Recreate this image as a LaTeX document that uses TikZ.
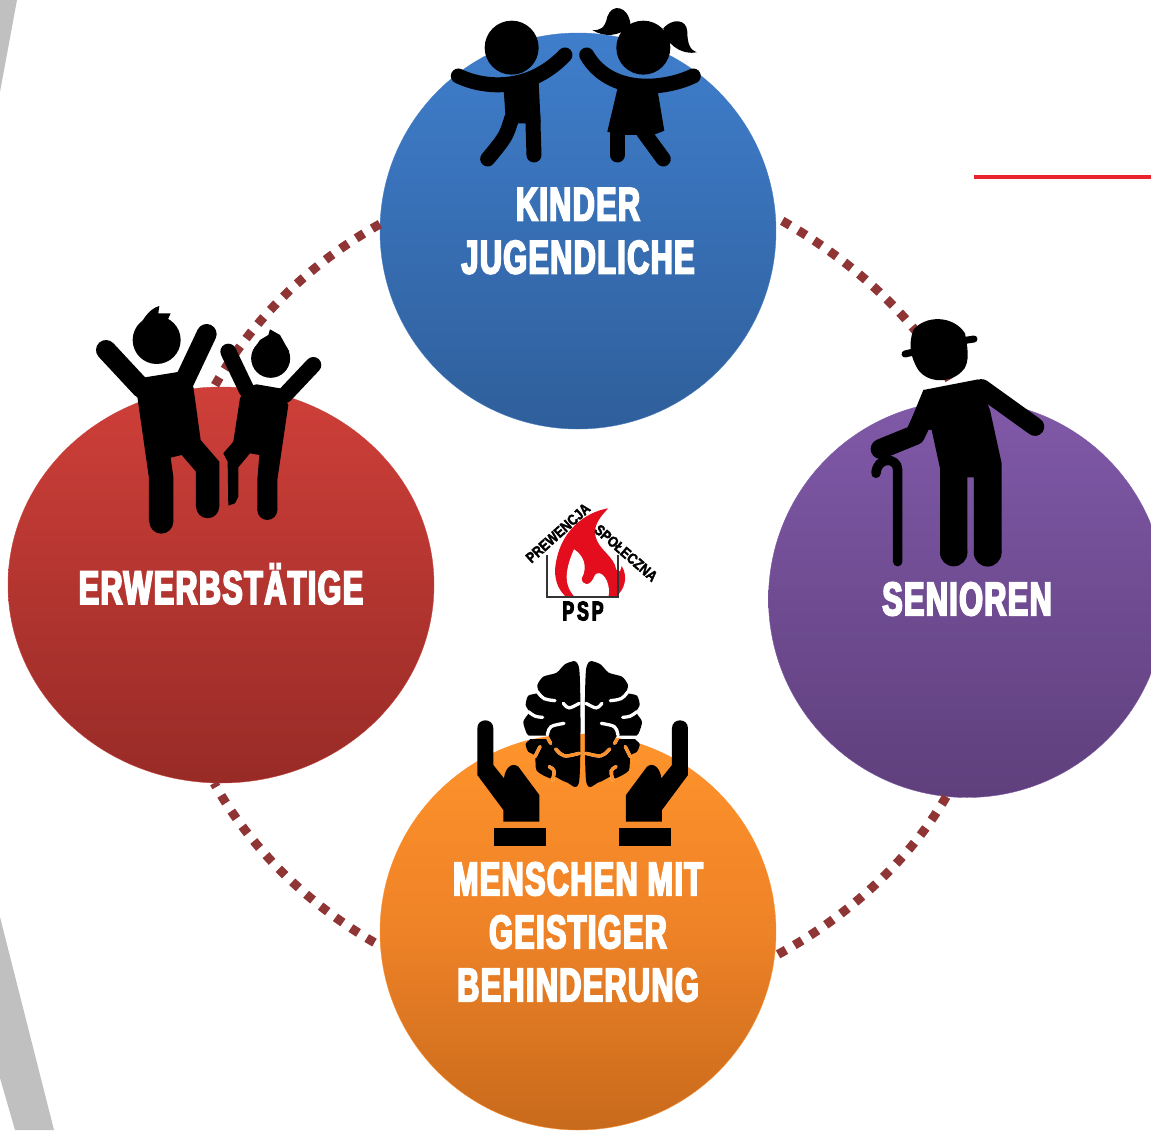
\documentclass[tikz,border=0pt]{standalone}
\usepackage{fontspec}
\usetikzlibrary{shapes.geometric}
\newfontfamily\impactfont[FakeStretch=0.65,FakeBold=4,LetterSpace=3]{Liberation Sans}
\newfontfamily\logofont[FakeStretch=0.84,FakeBold=2]{Liberation Sans}
\definecolor{ringred}{HTML}{903535}
\definecolor{flamered}{HTML}{E30D1E}
\definecolor{sidegrey}{HTML}{C0C0C0}
\tikzset{
    group/.style={align=center, text=white, inner sep=0pt,
        font=\impactfont\bfseries\fontsize{47}{53}\selectfont},
    ringdots/.style={ringred, line width=9pt, dash pattern=on 9pt off 9.7pt},
    limb/.style={black, line cap=round, line join=round},
    logotext/.style={inner sep=0pt, black, font=\logofont\bfseries\fontsize{15}{15}\selectfont}
}
\def\brainhalf{plot[smooth cycle, tension=.45] coordinates {(358,60) (320,40) (290,68) (250,80) (232,105) (235,128) (205,137) (197,165) (207,187) (190,215) (200,250) (212,265) (197,282) (205,305) (225,318) (230,362) (270,385) (285,380) (320,397) (358,390)} }
\def\braincuts{
    \draw (232,125) .. controls (250,148) .. (285,152);
    \draw (310,160) .. controls (325,178) .. (358,160);
    \draw (205,185) .. controls (225,200) .. (248,202);
    \draw (262,255) .. controls (268,228) .. (312,220);
    \draw (205,262) -- (262,262) -- (272,280);
    \draw (287,297) .. controls (310,322) .. (358,310);
    \draw (240,290) -- (225,320);
    \draw (268,350) .. controls (285,360) .. (278,390);
}
\begin{document}
\begin{tikzpicture}[x=1pt, y=-1pt]
    \useasboundingbox (0,0) rectangle (1151,1130);
    \clip (0,0) rectangle (1151,1130);
    \fill[sidegrey] (0,0) -- (17,0) -- (0,92) -- cycle;
    \fill[sidegrey] (0,917) -- (54,1130) -- (15,1130) -- (0,1078) -- cycle;
    \draw[color={rgb,255:red,232;green,37;blue,46}, line width=4pt] (974,177) -- (1151,177);

    \node[group, shape=circle, minimum size=396pt, draw={rgb,255:red,68;green,125;blue,195}, top color={rgb,255:red,63;green,126;blue,204}, bottom color={rgb,255:red,47;green,95;blue,155}] (kinder) at (578,231) {KINDER\\JUGENDLICHE};
    \node[group, shape=ellipse, minimum width=426pt, minimum height=396pt, draw={rgb,255:red,200;green,70;blue,65}, top color={rgb,255:red,207;green,63;blue,57}, bottom color={rgb,255:red,152;green,43;blue,39}] (erwerb) at (221,585) {\raisebox{2.5pt}{ERWERBSTÄTIGE}};
    \node[group, shape=circle, minimum size=397pt, draw={rgb,255:red,125;green,90;blue,165}, top color={rgb,255:red,128;green,89;blue,168}, bottom color={rgb,255:red,95;green,63;blue,124}] (senioren) at (967,599) {SENIOREN};
    \node[group, shape=circle, minimum size=396pt, draw={rgb,255:red,250;green,145;blue,50}, top color={rgb,255:red,255;green,147;blue,43}, bottom color={rgb,255:red,200;green,106;blue,28}, middle color={rgb,255:red,238;green,130;blue,39}] (menschen) at (578,932) {MENSCHEN MIT\\GEISTIGER\\BEHINDERUNG};

    \draw[ringdots] (kinder.178) to[out=209, in=61, looseness=.85] (erwerb.92);
    \draw[ringdots, dash phase=11.2pt] (kinder.4) to[out=-29, in=115, looseness=.85] (senioren.92);
    \draw[ringdots] (senioren.264) to[out=240, in=28, looseness=.85] (menschen.353);
    \draw[ringdots, dash phase=4.5pt] (erwerb.268) to[out=-61, in=151, looseness=.85] (menschen.184);

    % children
    \begin{scope}[shift={(430,0)}, x=.3333pt, y=-.3333pt]
        \fill (245,143) circle (27pt);
        \draw[limb, line width=15pt] (85,228) .. controls (150,260) and (290,285) .. (405,165);
        \fill (220,255) -- (326,245) -- (332,370) -- (228,370) -- cycle;
        \draw[limb, line width=15pt] (245,355) .. controls (228,410) .. (173,477);
        \draw[limb, line width=15pt] (308,340) -- (312,465);
        \fill (640,143) circle (27pt);
        \fill (602,75) .. controls (595,15) and (545,10) .. (532,50) .. controls (525,85) and (510,92) .. (487,90) .. controls (520,112) and (570,110) .. (595,80) -- cycle;
        \fill (700,85) .. controls (725,55) and (770,55) .. (772,95) .. controls (772,130) and (780,150) .. (800,157) .. controls (760,165) and (720,140) .. (705,105) -- cycle;
        \draw[limb, line width=15pt] (470,165) .. controls (540,285) and (700,270) .. (790,228);
        \fill (565,255) -- (680,255) -- (703,392) -- (670,405) -- (570,405) -- (532,395) -- cycle;
        \draw[limb, line width=15pt] (562,400) -- (562,465);
        \draw[limb, line width=15pt] (640,395) -- (700,477);
    \end{scope}

    % adults
    \begin{scope}[shift={(80,290)}, x=.3333pt, y=-.3333pt]
        \fill (230,150) circle (24pt);
        \fill (178,110) .. controls (190,85) and (210,55) .. (238,48) -- (235,70) -- (272,70) -- (262,92) -- (292,125) -- cycle;
        \draw[limb, line width=20pt] (78,180) -- (185,295);
        \draw[limb, line width=20pt] (380,132) -- (310,280);
        \fill (172,320) -- (195,262) -- (300,245) -- (340,290) -- (362,450) -- (418,515) -- (418,650) -- (348,650) -- (348,545) -- (305,495) -- (272,503) -- (280,560) -- (280,695) -- (207,695) -- (207,565) -- cycle;
        \fill (244,695) circle (12pt);
        \fill (383,650) circle (11.6pt);
        \fill (572,205) circle (19.5pt);
        \fill (530,165) -- (540,150) -- (565,135) -- (570,118) -- (600,135) -- (628,185) -- cycle;
        \draw[limb, line width=16pt] (445,185) -- (500,300);
        \draw[limb, line width=16pt] (700,225) -- (615,315);
        \fill (480,325) -- (500,290) -- (530,283) -- (600,295) -- (625,345) -- (592,570) -- (592,660) -- (532,660) -- (532,570) -- (538,495) -- (510,490) -- (475,532) -- (475,620) -- (465,640) -- (445,647) -- (443,515) -- (430,490) -- (460,455) -- cycle;
        \fill (562,660) circle (10pt);
    \end{scope}

    % senior
    \begin{scope}[shift={(850,300)}, x=.3333pt, y=-.3333pt]
        \fill (190,90) .. controls (225,45) and (310,45) .. (345,100) .. controls (350,130) and (365,190) .. (335,215) .. controls (300,250) and (235,250) .. (205,210) .. controls (180,170) and (175,130) .. (190,90) -- cycle;
        \draw[limb, line width=7pt] (165,162) -- (195,155);
        \draw[limb, line width=7pt] (340,122) -- (372,117);
        \draw[limb, line width=18.5pt] (395,265) -- (555,380);
        \draw[limb, line width=20pt] (245,300) -- (195,405) -- (92,447);
        \fill (220,270) -- (385,238) -- (420,330) -- (455,490) -- (455,758) -- (372,758) -- (372,532) -- (352,532) -- (352,758) -- (270,758) -- (270,505) -- (245,390) -- (175,380) -- cycle;
        \fill (311,758) circle (13.7pt);
        \fill (413,758) circle (13.9pt);
        \draw[limb, line width=9.5pt] (143,785) -- (143,510) .. controls (143,470) and (80,470) .. (78,520);
    \end{scope}

    % hands and brain
    \begin{scope}[shift={(460,650)}, x=.3333pt, y=-.3333pt]
        \foreach \mirror in {0,1} {
            \begin{scope}[shift={(736*\mirror,0)}, xscale=1-2*\mirror]
                \fill \brainhalf;
                \fill (52,235) .. controls (52,203) and (100,203) .. (100,235) -- (100,345) -- (132,385) .. controls (135,355) and (155,335) .. (175,350) -- (238,435) -- (238,515) -- (130,515) -- (130,480) -- (52,375) -- cycle;
                \fill (103,533) rectangle (258,588);
                \begin{scope}[white, line width=3.3pt, line cap=round]
                    \braincuts
                \end{scope}
            \end{scope}
        }
    \end{scope}
    \begin{scope}
        \clip (578,932) circle (198pt);
        \begin{scope}[shift={(460,650)}, x=.3333pt, y=-.3333pt]
            \foreach \mirror in {0,1} {
                \begin{scope}[shift={(736*\mirror,0)}, xscale=1-2*\mirror, color={rgb,255:red,255;green,145;blue,42}, line width=3.3pt, line cap=round]
                    \braincuts
                \end{scope}
            }
        \end{scope}
    \end{scope}

    % logo
    \begin{scope}[shift={(500,490)}, x=.3333pt, y=-.3333pt]
        \fill[flamered] (325,55) .. controls (260,65) and (175,120) .. (165,240) .. controls (165,280) and (180,305) .. (200,322) -- (345,322) .. controls (375,300) and (385,260) .. (365,228) .. controls (360,255) and (350,250) .. (345,225) .. controls (330,190) and (285,170) .. (285,125) .. controls (285,100) and (305,75) .. (325,55) -- cycle;
        \fill[white] (222,178) .. controls (250,195) and (265,230) .. (245,265) .. controls (245,285) and (270,295) .. (285,255) .. controls (300,235) and (335,270) .. (325,322) -- (225,322) .. controls (195,290) and (190,250) .. (222,178) -- cycle;
        \draw[black!80, line width=2pt] (140,195) -- (140,322) -- (355,322) -- (355,195);
    \end{scope}
    \node[logotext, rotate=42] (prewencja) at (558,533) {PREWENCJA};
    \node[logotext, rotate=-41] (spoleczna) at (626,553) {SPOŁECZNA};
    \node[inner sep=0pt, black, font=\impactfont\bfseries\fontsize{27}{27}\selectfont] (psp) at (583,611) {P\hspace{3pt}S\hspace{3pt}P};
\end{tikzpicture}
\end{document}
